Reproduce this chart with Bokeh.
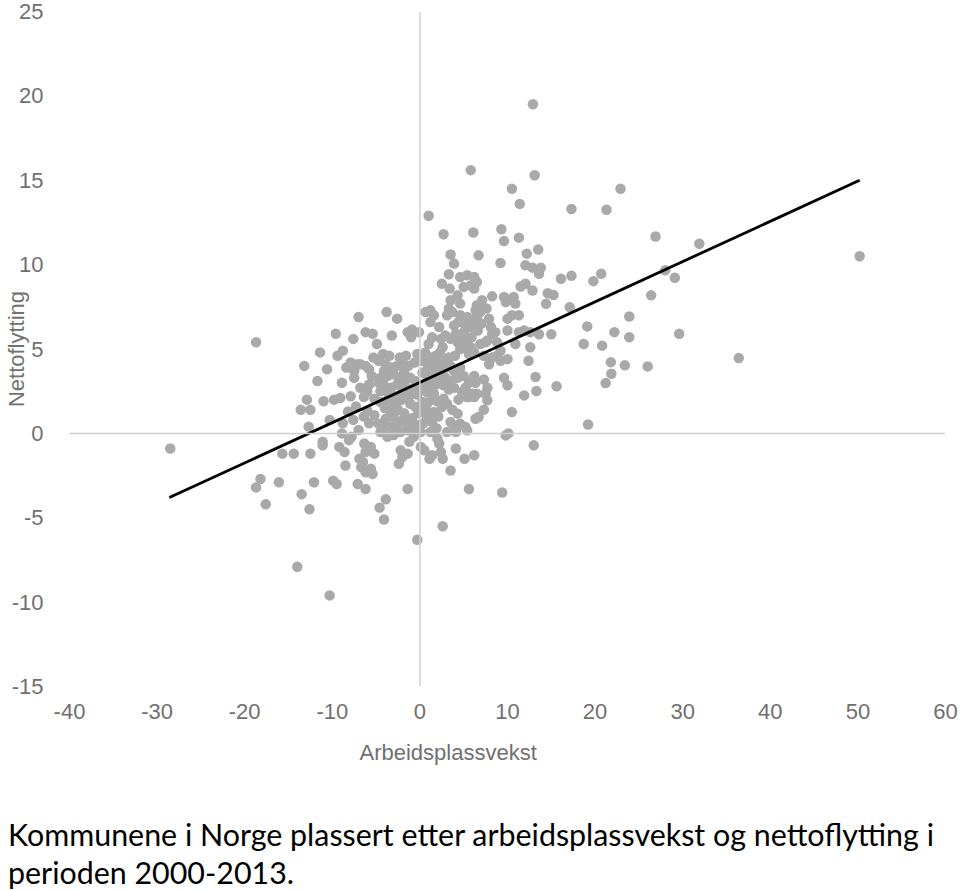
from bokeh.plotting import figure
from bokeh.models import Span, FixedTicker, Range1d, Title, Div, CustomJSTickFormatter
from bokeh.layouts import column
from bokeh.embed import file_html
from bokeh.resources import INLINE

# ---- data ----
arbeidsplassvekst = [
    # left side and outliers
    -28.5, -18.7, -18.2, -18.7, -17.6, -16.1, -15.7, -14.4, -14.0, -13.5,
    -12.6, -12.1, -12.5, -10.3, -9.9, -9.5, -13.2, -12.9, -13.6, -12.5,
    -12.7, -11.7, -11.4, -11.0, -11.1, -11.1, -10.6, -10.3, -9.6, -9.8,
    -9.4, -9.2, -9.1, -8.9, -8.9, -8.8, -8.8, -8.6, -8.5, -8.4,
    # left centre
    -7.9, -7.1, -7.5, -7.5, -7.9, -7.0, -7.6, -8.2, -7.6, -7.3,
    # lower centre
    -6.35, -5.6, -5.2, -6.2, -6.9, -6.5, -6.7, -5.6, -6.2, -5.4,
    -7.1, -6.2, -3.9, -4.6, -4.1, -2.2, -2.4, -1.4, -1.2, 0.1,
    1.1, 1.4, 2.0, 2.4, 2.6, 3.5, 4.1, 5.1, 6.2, 5.6,
    -1.4, 2.6, -0.3, -3.7, -3.0, -0.7, 2.2, 0.5, -2.0, -8.1,
    # dense centre
    3.5, 6.7, 3.9, 9.2, 12.05, 12.2,
    3.3, 4.6, 5.4, 6.2, 6.5,
    2.5, 3.4, 5.0, 5.8, 6.2, 12.05, 11.5,
    4.3, 3.5, 4.6, 8.25, 9.6, 10.7, 10.9, 9.8,
    7.1, 6.5, 6.35, 1.2, 1.6, 0.65, 1.2,
    3.3, 3.7, 3.1, 4.6, 5.4, 5.2, 5.8, 6.2, 6.5,
    7.9, 8.1, 8.25, 7.7, 10.0, 10.5, 11.3, 10.0, 11.3, 11.9,
    -3.8, -2.6, -6.2, -5.4, -3.2, -1.4, -0.9, -0.1, -1.0,
    -4.9, -4.2, -4.7, -0.3, 2.2,
    1.4, 2.4, 2.9, 3.5, 4.3, 4.8, 5.4, 5.2, 4.6, 5.8, 5.6, 6.2,
    6.9, 7.5, 8.8, 9.2, 8.8, 8.25, 9.2, 10.0, 10.9, 12.6,
    -6.8, -6.2, -5.8, -3.9, -3.2, -2.6, -2.0, -1.3,
    -4.5, -3.7, -3.0, -1.8, -1.1, -0.5, 0.3, 0.8,
    1.2, 1.8, 1.4, 2.2, 1.8, 2.5, 3.3, 3.5, 3.9, 4.6, 4.3, 3.5, 2.9,
    6.2, 6.35, 7.3, 7.7, 7.5, 6.5, 6.2, 5.6, 9.6, 10.0, 11.9, 10.5,
    -6.8, -6.0, -6.4, -4.7, -4.1, -4.5, -3.3, -2.6, -2.0, -1.3, -0.7, -0.1,
    0.65, 1.2, 1.8, 0.8, 1.6, 2.7, 3.3, 3.9, 4.8, 5.4, 6.0,
    -5.2, -4.5, -3.7, -3.0, -2.2, -1.4, -1.1, -0.5, 0.3, 0.8, 1.2,
    2.7, 3.1, 2.5, 4.3, 3.5, 4.6, 5.2, 6.35, 6.7, 7.3, 7.7,
    -6.0, -5.2, -4.7, -3.9, -3.3, -3.0, -2.6, -2.0, -4.5, -2.2,
    -1.4, -0.7, 0.1, 0.8, 1.4, 1.6, 0.65, 1.2, 3.1, 4.1, 4.4, 5.4,
    # more of the dense core
    -4.0, -3.5, -2.8, -2.4, -1.7, -1.0, -0.3, -2.5, -1.8, -0.2, 0.4,
    -0.6, 0.2, -5.5, -5.8, -5.3, -3.5, -2.3, -1.6, -4.1, -2.1, -3.8,
    0.9, 0.6, 1.0, 2.0, 2.3, 1.0, 2.8, 2.6, 3.0, 4.0, 4.1, 3.9, 4.4,
    5.0, 5.9, 6.6, 7.0, 6.9, 7.6, 8.6, 7.3, 7.9, 5.0, 5.6, 5.2, 4.4,
    -4.1, -3.4, -2.9, -1.6, -0.9, -0.2, 0.4, 2.1, 2.0, 3.7, 3.9, 1.9,
    -5.8, -6.4, -7.0, -7.8,
    # upper and right side
    12.9, 5.8, 13.1, 10.5, 11.4, 17.3, 21.3, 22.9,
    1.0, 2.7, 6.1, 9.3, 9.6, 11.3, 13.5,
    12.85, 13.8, 13.6, 16.1, 17.3, 19.8, 20.7,
    12.85, 14.6, 15.25, 14.4, 17.1,
    13.6, 15.0, 19.1, 22.2, 18.7, 20.8, 21.8, 21.85, 21.2,
    12.6, 12.4, 13.2, 13.3, 15.6, 19.2, 13.0, 9.4, 9.8, 10.1,
    26.9, 31.9, 28.0, 29.1, 26.4, 50.2, 23.9, 23.9, 29.6, 23.4, 26.0, 36.4,
]

nettoflytting = [
    # left side and outliers
    -0.9, 5.4, -2.7, -3.2, -4.2, -2.9, -1.2, -1.2, -7.9, -3.6,
    -4.5, -2.9, -1.2, -9.6, -2.8, -3.0, 4.0, 2.0, 1.4, 1.4,
    0.4, 3.1, 4.8, 1.9, -0.5, -0.7, 3.8, 0.8, 5.9, 2.0,
    4.6, -0.8, 2.1, 3.0, 0.0, 4.9, 0.6, -1.1, -1.9, 3.9,
    # left centre
    4.2, 4.1, 3.7, 3.3, 2.2, 6.9, 5.6, 1.3, 0.8, 1.6,
    # lower centre
    -0.6, -0.8, -1.2, -1.1, -1.5, -1.7, -2.0, -2.1, -2.3, -2.4,
    -3.0, -3.3, -3.9, -4.4, -5.1, -1.0, -1.8, -1.2, -0.5, -0.8,
    -1.5, -1.3, -0.3, -1.1, -1.5, -2.2, -0.9, -1.5, -1.3, -3.3,
    -3.3, -5.5, -6.3, -0.2, -0.1, -0.2, -0.6, -1.0, -1.4, -0.4,
    # dense centre
    10.6, 10.55, 10.06, 10.1, 9.96, 10.65,
    9.43, 9.27, 9.37, 9.27, 8.97,
    8.87, 8.58, 8.68, 8.77, 8.58, 8.87, 8.7,
    8.18, 7.89, 7.69, 8.12, 8.08, 8.08, 7.69, 7.79,
    7.89, 7.59, 7.29, 7.29, 7.0, 7.19, 6.6,
    7.39, 7.19, 7.0, 7.0, 6.9, 6.4, 6.3, 6.6, 6.9,
    6.8, 6.3, 5.9, 5.5, 6.8, 7.0, 7.0, 6.1, 6.0, 6.1,
    7.19, 6.8, 6.0, 5.9, 5.8, 6.0, 6.15, 6.0, 5.7,
    5.3, 4.7, 4.3, 4.7, 6.3,
    5.7, 5.6, 5.8, 5.6, 5.4, 5.5, 5.6, 5.1, 5.0, 5.1, 4.7, 4.8,
    5.3, 5.4, 5.4, 4.9, 4.6, 4.5, 4.3, 4.4, 5.3, 6.0,
    4.1, 4.0, 3.8, 4.1, 3.9, 4.0, 4.1, 4.0,
    3.3, 3.4, 3.5, 3.6, 3.3, 3.1, 3.6, 3.5,
    4.5, 4.6, 4.1, 4.1, 3.7, 3.8, 4.5, 4.0, 3.7, 3.9, 3.3, 3.1, 3.3,
    3.4, 3.0, 3.2, 2.7, 2.35, 2.35, 2.15, 2.15, 3.3, 2.85, 2.25, 1.26,
    2.7, 2.5, 2.15, 3.0, 2.85, 2.5, 2.7, 2.9, 2.5, 2.6, 2.7, 2.9,
    3.0, 2.85, 2.9, 2.45, 2.35, 2.85, 2.6, 2.7, 2.45, 2.15, 2.35,
    2.05, 1.86, 1.96, 1.76, 1.96, 2.05, 1.76, 1.56, 1.86, 1.76, 1.96,
    2.05, 1.76, 1.56, 1.17, 0.67, 0.57, 0.38, 0.87, 0.97, 1.4, 1.96,
    1.36, 1.07, 0.57, 0.87, 1.26, 0.97, 0.57, 0.77, 0.08, 0.08,
    0.18, 0.38, 0.08, 0.97, 0.67, 1.26, 1.46, 0.08, 0.08, 0.08, 0.47, 0.18,
    # more of the dense core
    1.5, 2.3, 2.2, 3.3, 3.1, 2.3, 2.3, 1.4, 1.2, 1.2, 2.6,
    4.2, 4.3, 3.4, 2.9, 4.5, 4.6, 4.5, 4.6, 3.7, 3.0, 2.5,
    4.0, 4.8, 3.2, 3.3, 4.8, 5.3, 4.3, 5.1, 3.9, 4.6, 5.9, 6.4, 6.6,
    6.0, 5.7, 6.1, 6.5, 7.2, 7.4, 6.0, 4.6, 4.1, 3.4, 3.0, 2.7, 2.0,
    0.3, 0.4, 0.1, 0.6, 0.9, 0.5, 0.6, 1.0, 1.9, 1.4, 0.2, 0.3,
    0.6, 1.0, 0.2, -0.2,
    # upper and right side
    19.5, 15.6, 15.3, 14.5, 13.6, 13.3, 13.25, 14.5,
    12.9, 11.8, 11.9, 12.1, 11.4, 11.6, 10.9,
    9.82, 9.82, 9.46, 9.16, 9.34, 9.02, 9.46,
    8.47, 8.3, 8.2, 7.68, 7.48,
    5.87, 5.87, 6.34, 6.0, 5.3, 5.2, 4.22, 3.53, 2.98,
    5.1, 4.3, 3.34, 2.51, 2.79, 0.53, -0.71, -3.5, -0.12, 0.0,
    11.67, 11.24, 9.66, 9.22, 8.18, 10.5, 6.93, 5.7, 5.9, 4.03, 3.97, 4.46,
]

trend_x = [-28.6, 50.2]
trend_y = [-3.8, 15.0]

x_ticks = [-40, -30, -20, -10, 0, 10, 20, 30, 40, 50, 60]
y_ticks = [-15, -10, -5, 0, 5, 10, 15, 20, 25]

x_title = "Arbeidsplassvekst"
y_title = "Nettoflytting"
caption_lines = [
    "Kommunene i Norge plassert etter arbeidsplassvekst og nettoflytting i",
    "perioden 2000-2013.",
]

AXIS_FONT = "Liberation Sans"
AXIS_COLOR = "#707070"

p = figure(
    width=960, height=780,
    x_range=Range1d(-40, 60), y_range=Range1d(-15, 25),
    output_backend="svg", toolbar_location=None,
    min_border_left=68, min_border_right=15,
    min_border_top=11, min_border_bottom=94,
)
p.outline_line_color = None
p.xgrid.grid_line_color = None
p.ygrid.grid_line_color = None
p.background_fill_color = "white"
p.border_fill_color = "white"

plain = CustomJSTickFormatter(code="return String(tick);")
for ax in (p.xaxis[0], p.yaxis[0]):
    ax.axis_line_color = None
    ax.major_tick_line_color = None
    ax.minor_tick_line_color = None
    ax.major_label_text_font = AXIS_FONT
    ax.major_label_text_font_size = "22px"
    ax.major_label_text_color = AXIS_COLOR
    ax.formatter = plain

p.xaxis[0].ticker = FixedTicker(ticks=x_ticks)
p.yaxis[0].ticker = FixedTicker(ticks=y_ticks)
p.xaxis[0].major_label_standoff = 11
p.yaxis[0].major_label_standoff = 20

# y axis title, squeezed into the left border
p.yaxis[0].axis_label = y_title
p.yaxis[0].axis_label_text_font = AXIS_FONT
p.yaxis[0].axis_label_text_font_size = "22px"
p.yaxis[0].axis_label_text_font_style = "normal"
p.yaxis[0].axis_label_text_color = AXIS_COLOR
p.yaxis[0].axis_label_standoff = -20

# zero lines
p.add_layout(Span(location=0, dimension="height", line_color="#D0D0D0", line_width=1.5))
p.add_layout(Span(location=0, dimension="width", line_color="#D0D0D0", line_width=1.5))

p.scatter(arbeidsplassvekst, nettoflytting, size=10.5,
          fill_color="#A9A9A9", line_color=None)
p.line(trend_x, trend_y, line_color="black", line_width=2.8)

# x axis title (left of centre, as in the reference)
p.add_layout(Title(text=x_title, align="left", offset=290, standoff=32,
                   text_font=AXIS_FONT, text_font_size="22px",
                   text_font_style="normal", text_color=AXIS_COLOR), "below")

caption_html = (
    '<div style="font-family: Lato; font-size: 30.4px; line-height: 38px; '
    'color: black; margin: 0; padding: 35px 0 0 8px; white-space: nowrap;">'
    + caption_lines[0] + "<br>" + caption_lines[1] + "</div>"
)
caption = Div(text=caption_html, width=960, height=110,
              styles={"margin": "0px", "padding": "0px"})

layout = column(p, caption, spacing=0)

open("out.html", "w").write(file_html(layout, INLINE))
